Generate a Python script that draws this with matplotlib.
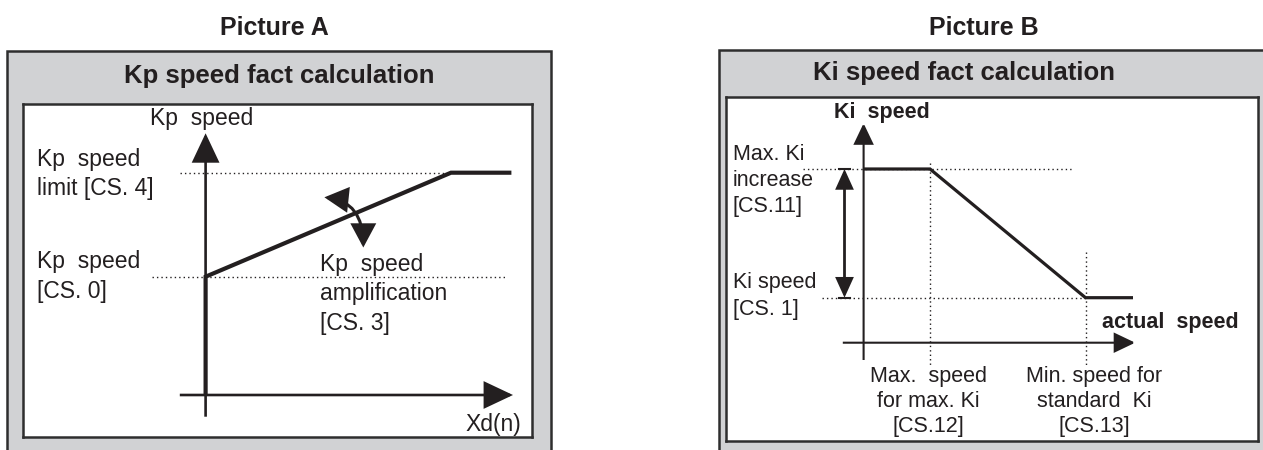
import matplotlib
matplotlib.use("Agg")
import matplotlib.pyplot as plt
from matplotlib.patches import Rectangle, FancyArrowPatch

plt.rcParams["font.family"] = ["Liberation Sans", "DejaVu Sans"]

W, H, DPI = 1263, 450, 100
INK = "#231f20"
GRAY = "#d1d2d4"
EDGE = "#2e2e2e"

# ---------------- data (diagram units) ----------------
# Picture A : Kp speed factor versus Xd(n)
kp_x = [0.0, 0.0, 24.54, 30.58]
kp_y = [0.0, 11.83, 22.23, 22.23]
kp_base = 11.83     # Kp speed [CS. 0]
kp_limit = 22.23    # Kp speed limit [CS. 4]
kp_knee = 24.54

# Picture B : Ki speed factor versus actual speed
ki_x = [0.0, 6.64, 22.19, 26.94]
ki_y = [17.37, 17.37, 4.5, 4.5]
ki_max = 17.37      # Max. Ki increase [CS.11]
ki_std = 4.5        # Ki speed [CS. 1]
speed_max_ki = 6.64   # [CS.12]
speed_std_ki = 22.19  # [CS.13]

picture_titles = ["Picture A", "Picture B"]
panel_titles = ["Kp speed fact calculation", "Ki speed fact calculation"]

# ---------------- figure ----------------
fig = plt.figure(figsize=(W / DPI, H / DPI), dpi=DPI)
bg = fig.add_axes([0, 0, 1, 1])
bg.set_xlim(0, W)
bg.set_ylim(H, 0)
bg.axis("off")

# outer grey frames
bg.add_patch(Rectangle((7, 50.7), 544, 420, fc=GRAY, ec=EDGE, lw=1.8))
bg.add_patch(Rectangle((719, 50), 600, 420, fc=GRAY, ec=EDGE, lw=1.8))

bg.text(274, 35, picture_titles[0], ha="center", va="baseline",
        fontsize=18, fontweight="bold", color=INK)
bg.text(984, 35, picture_titles[1], ha="center", va="baseline",
        fontsize=18, fontweight="bold", color=INK)
bg.text(279, 83, panel_titles[0], ha="center", va="baseline",
        fontsize=18.5, fontweight="bold", color=INK)
bg.text(964, 80, panel_titles[1], ha="center", va="baseline",
        fontsize=18.5, fontweight="bold", color=INK)


def panel(x0, y0, x1, y1, ox, oy, unit=10.0):
    ax = fig.add_axes([x0 / W, 1 - y1 / H, (x1 - x0) / W, (y1 - y0) / H])
    ax.set_xlim((x0 - ox) / unit, (x1 - ox) / unit)
    ax.set_ylim((oy - y1) / unit, (oy - y0) / unit)
    ax.set_xticks([])
    ax.set_yticks([])
    ax.set_facecolor("white")
    for s in ax.spines.values():
        s.set_linewidth(1.8)
        s.set_color(EDGE)
    return ax


def arrow(ax, a, b, style, lw, **kw):
    p = FancyArrowPatch(a, b, arrowstyle=style, mutation_scale=1, lw=lw,
                        color=INK, shrinkA=0, shrinkB=0,
                        joinstyle="miter", capstyle="butt", **kw)
    ax.add_patch(p)
    return p


DOT = dict(ls=(0, (1, 2.2)), lw=1.0, color=INK)

# ---------------- Picture A ----------------
axA = panel(23.4, 104.3, 531.7, 436.7, 205.6, 395)
headA = "-|>,head_length=18,head_width=8.5"
arrow(axA, (0, -2.17), (0, 26.17), headA, 1.9)
arrow(axA, (-2.58, 0), (30.74, 0), headA, 1.9)

axA.plot([-2.58, kp_knee], [kp_limit, kp_limit], **DOT)
axA.plot([-5.41, 30.04], [kp_base, kp_base], **DOT)
axA.plot(kp_x, kp_y, lw=3.0, color=INK, solid_joinstyle="miter",
         solid_capstyle="butt")

arrow(axA, (11.88, 19.77), (15.77, 14.75),
      "<|-|>,head_length=14,head_width=7.5", 2.2,
      connectionstyle="angle3,angleA=-6,angleB=90")

fsA = 16.5
axA.text(-5.56, 27.0, "Kp  speed", fontsize=fsA, color=INK, va="baseline")
axA.text(-16.84, 22.93, "Kp  speed", fontsize=fsA, color=INK, va="baseline")
axA.text(-16.84, 20.0, "limit [CS. 4]", fontsize=fsA, color=INK, va="baseline")
axA.text(-16.84, 12.7, "Kp  speed", fontsize=fsA, color=INK, va="baseline")
axA.text(-16.84, 9.73, "[CS. 0]", fontsize=fsA, color=INK, va="baseline")
axA.text(11.4, 12.43, "Kp  speed", fontsize=fsA, color=INK, va="baseline")
axA.text(11.4, 9.5, "amplification", fontsize=fsA, color=INK, va="baseline")
axA.text(11.4, 6.5, "[CS. 3]", fontsize=fsA, color=INK, va="baseline")
axA.text(31.61, -3.6, "Xd(n)", fontsize=fsA, color=INK, va="baseline", ha="right")

# ---------------- Picture B ----------------
axB = panel(725.7, 97.3, 1258.3, 441.0, 863.6, 342.7)
headB = "-|>,head_length=13,head_width=6.2"
arrow(axB, (0, -1.73), (0, 21.94), headB, 1.5)
arrow(axB, (-2.08, 0), (27.16, 0), headB, 1.5)

axB.plot([-6.03, 21.02], [ki_max, ki_max], **DOT)
axB.plot([-4.2, speed_std_ki], [ki_std, ki_std], **DOT)
axB.plot([speed_max_ki, speed_max_ki], [17.94, -2.33], **DOT)
axB.plot([speed_std_ki, speed_std_ki], [9.1, -2.33], **DOT)
axB.plot(ki_x, ki_y, lw=2.3, color=INK, solid_joinstyle="miter",
         solid_capstyle="butt")

xa = -1.91
arrow(axB, (xa, ki_max), (xa, ki_std), "<|-|>,head_length=11.5,head_width=5.2", 2.0)
axB.plot([xa - 0.55, xa + 0.55], [ki_max, ki_max], lw=1.5, color=INK)
axB.plot([xa - 0.55, xa + 0.55], [ki_std, ki_std], lw=1.5, color=INK)

fsB = 15.5
axB.text(-2.92, 22.44, "Ki  speed", fontsize=fsB, fontweight="bold", color=INK, va="baseline")
axB.text(23.83, 1.44, "actual  speed", fontsize=fsB, fontweight="bold", color=INK, va="baseline")
axB.text(-13.06, 18.27, "Max. Ki", fontsize=fsB, color=INK, va="baseline")
axB.text(-13.06, 15.7, "increase", fontsize=fsB, color=INK, va="baseline")
axB.text(-13.06, 13.1, "[CS.11]", fontsize=fsB, color=INK, va="baseline")
axB.text(-13.06, 5.44, "Ki speed", fontsize=fsB, color=INK, va="baseline")
axB.text(-13.06, 2.77, "[CS. 1]", fontsize=fsB, color=INK, va="baseline")
for i, line in enumerate(["Max.  speed", "for max. Ki", "[CS.12]"]):
    axB.text(6.49, -3.9 - 2.5 * i, line, fontsize=fsB, color=INK,
             va="baseline", ha="center")
for i, line in enumerate(["Min. speed for", "standard  Ki", "[CS.13]"]):
    axB.text(23.03, -3.9 - 2.5 * i, line, fontsize=fsB, color=INK,
             va="baseline", ha="center")

fig.savefig("out.png", dpi=DPI, facecolor="white")
